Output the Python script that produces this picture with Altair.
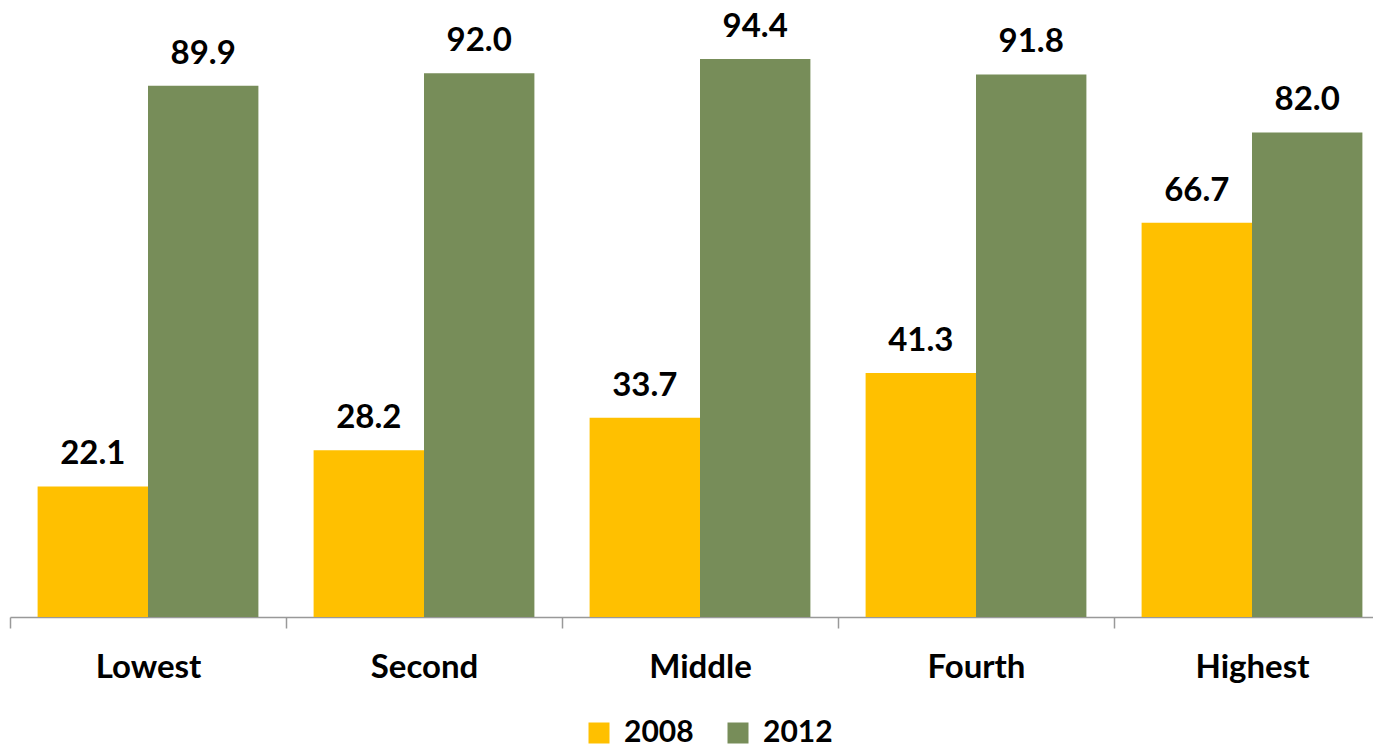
import altair as alt
import pandas as pd

categories = ["Lowest", "Second", "Middle", "Fourth", "Highest"]
years = ["2008", "2012"]
values_2008 = [22.1, 28.2, 33.7, 41.3, 66.7]
values_2012 = [89.9, 92.0, 94.4, 91.8, 82.0]
colors = ["#FFC000", "#778D59"]

rows = []
for c, a, b in zip(categories, values_2008, values_2012):
    rows.append({"cat": c, "year": "2008", "value": a})
    rows.append({"cat": c, "year": "2012", "value": b})
df = pd.DataFrame(rows)
df["label"] = df["value"].map(lambda v: f"{v:.1f}")

FONT = "Lato"

base = alt.Chart(df).encode(
    x=alt.X(
        "cat:N",
        sort=categories,
        title=None,
        scale=alt.Scale(paddingInner=0, paddingOuter=0),
        axis=alt.Axis(
            labelAngle=0,
            labelFont=FONT,
            labelFontWeight="bold",
            labelFontSize=33,
            labelColor="black",
            labelPadding=23,
            tickBand="extent",
            tickSize=11,
            tickColor="#999999",
            tickWidth=1.5,
            domainColor="#999999",
            domainWidth=1.5,
            grid=False,
        ),
    ),
    xOffset=alt.XOffset(
        "year:N", sort=years, scale=alt.Scale(paddingInner=0, paddingOuter=0.25)
    ),
    y=alt.Y("value:Q", scale=alt.Scale(domain=[0, 100]), axis=None),
)

bars = base.mark_bar().encode(
    color=alt.Color(
        "year:N",
        scale=alt.Scale(domain=years, range=colors),
        legend=alt.Legend(
            title=None,
            orient="none",
            legendX=574,
            legendY=692,
            direction="horizontal",
            symbolType="square",
            symbolSize=441,
            symbolStrokeWidth=0,
            symbolOpacity=1,
            labelFont=FONT,
            labelFontWeight="bold",
            labelFontSize=30,
            labelColor="black",
            labelOffset=10,
            columnPadding=29,
        ),
    )
)

text = base.mark_text(
    dy=-22, baseline="alphabetic", font=FONT, fontWeight="bold", fontSize=33, color="black"
).encode(text="label:N")

chart = (
    alt.layer(bars, text)
    .properties(
        width=1380,
        height=591,
        padding={"left": 2, "top": 18, "right": -17, "bottom": 128},
        autosize=alt.AutoSizeParams(type="none"),
    )
    .configure_view(stroke=None)
)

chart.save("out.html", embed_options={"renderer": "svg", "actions": False})
